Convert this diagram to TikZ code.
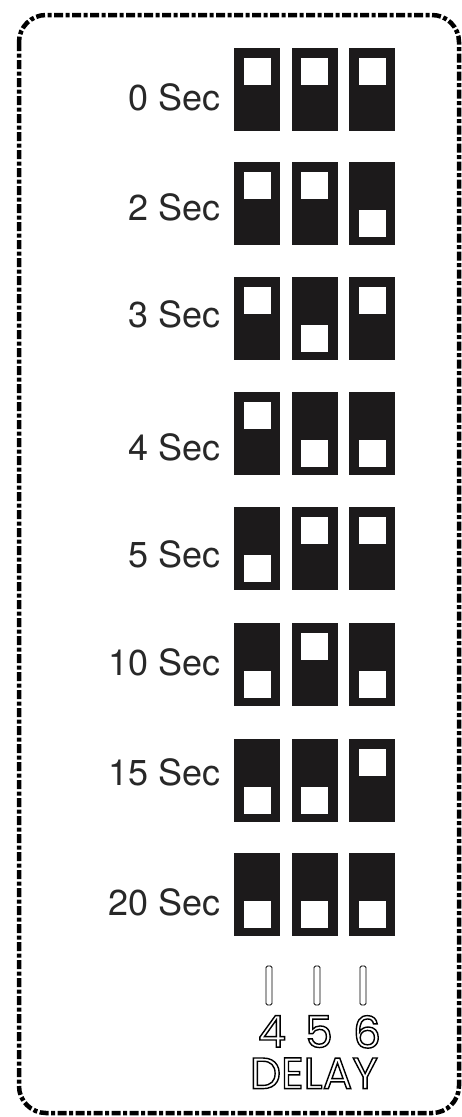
\documentclass[tikz,border=0pt]{standalone}
\usepackage{fontspec}
\usepackage{xcolor}
\usepackage{tikz}
\usetikzlibrary{positioning}
\setmainfont{TeX Gyre Heros}
\newfontfamily\geofont{Poppins}
\definecolor{swblack}{RGB}{28,26,27}
\definecolor{lblgray}{RGB}{40,40,40}
% outlined (hollow) lettering
\newcommand{\hollow}[1]{\special{pdf:literal direct 1 Tr 1.4 w}#1\special{pdf:literal direct 0 Tr}}

\begin{document}
\begin{tikzpicture}[x=1pt,y=-1pt,
    sw/.style={fill=swblack,minimum width=46pt,minimum height=83pt,
               inner sep=0pt,anchor=north west},
    knob/.style={fill=white,minimum size=27pt,inner sep=0pt,anchor=north},
    lbl/.style={anchor=base east,inner sep=0pt,text=lblgray,
                font=\fontsize{36}{40}\selectfont},
    lever/.style={draw,fill=white,line width=0.8pt,rounded corners=1.5pt,
                  minimum width=6pt,minimum height=39pt,inner sep=0pt},
    num/.style={inner sep=0pt,font=\geofont\fontsize{44}{48}\selectfont},
    frame/.style={line width=4.5pt,rounded corners=27pt,
                  dash pattern=on 9pt off 2.5pt on 4pt off 2.5pt}]
  \useasboundingbox (0,0) rectangle (462,1117);
  \draw[frame] (19,15) rectangle (459,1113);

  % one row per delay: label, top of switches, baseline, positions 4/5/6
  \foreach \txt/\top/\base/\sa/\sb/\sc [count=\r] in {
      0 Sec/48/110/1/1/1,
      2 Sec/162/220/1/1/0,
      3 Sec/277/327/1/0/1,
      4 Sec/392/460/1/0/0,
      5 Sec/507/567/0/1/1,
      10 Sec/623/675/0/1/0,
      15 Sec/739/785/0/0/1,
      20 Sec/853/915/0/0/0}
  {
    \node[lbl] (lbl-\r) at (221,\base) {\txt};
    \foreach \s [count=\k] in {\sa,\sb,\sc} {
      \node[sw] (sw-\r-\k) at ({234+57.5*(\k-1)},\top) {};
      \ifnum\s=1
        \node[knob] (kn-\r-\k) at ([yshift=-10pt]sw-\r-\k.north) {};
      \else
        \node[knob,anchor=south] (kn-\r-\k) at ([yshift=8pt]sw-\r-\k.south) {};
      \fi
    }
  }

  \node[lever] (lv-1) at (269,985.5) {};
  \node[lever] (lv-2) at (317,985.5) {};
  \node[lever] (lv-3) at (363,985.5) {};
  \node[num,below=10pt of lv-1,xshift=3pt] (n4) {\hollow{4}};
  \node[num,below=10pt of lv-2,xshift=2pt] (n5) {\hollow{5}};
  \node[num,below=10pt of lv-3,xshift=4pt] (n6) {\hollow{6}};
  \node[num,below=10pt of n5,xshift=-5pt] (delay) {\hollow{DELAY}};
\end{tikzpicture}
\end{document}
